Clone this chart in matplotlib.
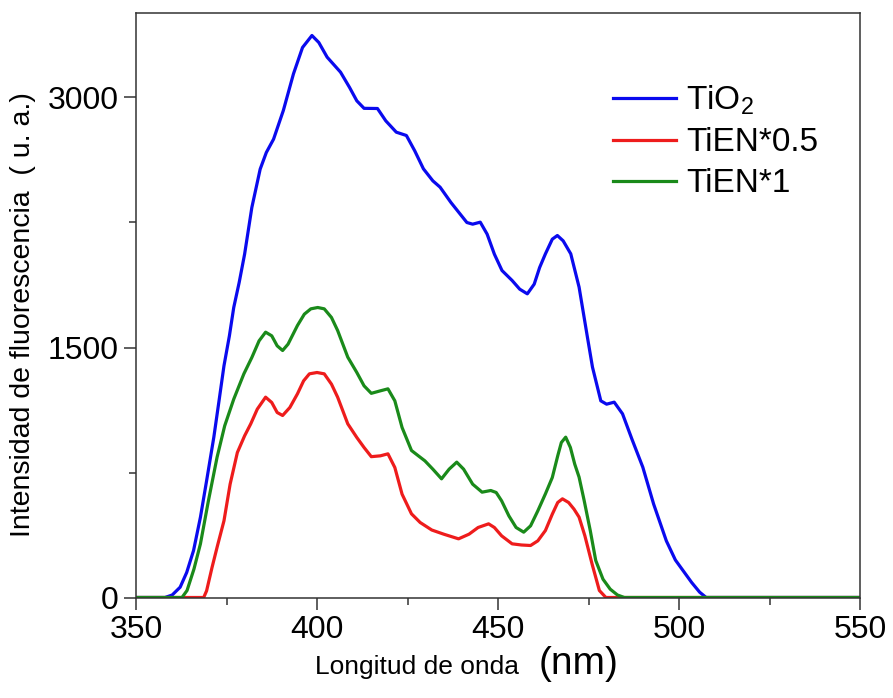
import matplotlib.pyplot as plt
from matplotlib.ticker import MultipleLocator

plt.rcParams['font.family'] = ['Liberation Sans', 'DejaVu Sans']
plt.rcParams['mathtext.default'] = 'regular'

# TiO2 emission spectrum
x_tio2 = [350, 358, 360, 362.2, 364, 365.9, 367.8, 369.5, 371.5, 373, 374.3, 375.8, 377,
          378.5, 380, 382, 384.3, 386, 388, 390.7, 393.5, 396, 398.6, 400.5, 402.8, 406.5,
          409, 411, 413, 416.7, 419, 421.9, 424.7, 427, 429.4, 432, 434, 437, 441.4, 443,
          445.1, 447, 449, 451.1, 453.9, 456, 458.1, 460, 461.5, 463.1, 465, 466.4, 468,
          470.1, 472.4, 474.7, 476.1, 478.4, 480, 482.1, 484.4, 487, 490, 493, 496.5, 499,
          501.1, 503.5, 505.7, 507.5, 550]
y_tio2 = [0, 0, 15, 62, 150, 282, 482, 700, 962, 1190, 1390, 1570, 1740,
          1890, 2060, 2340, 2570, 2670, 2750, 2922, 3142, 3300, 3372, 3330, 3242, 3152,
          3060, 2980, 2935, 2934, 2860, 2792, 2772, 2680, 2572, 2500, 2462, 2370, 2250, 2240,
          2252, 2180, 2060, 1962, 1902, 1850, 1822, 1880, 1980, 2062, 2150, 2172, 2140,
          2062, 1862, 1562, 1382, 1180, 1160, 1172, 1102, 950, 782, 560, 340, 225,
          162, 90, 32, 0, 0]

# TiEN*0.5
x_tien05 = [350, 368.7, 369.5, 371, 372.5, 374.3, 376, 378, 380, 381.7, 383.5, 385.8, 387.5,
            389, 390.5, 392.5, 394.6, 396.3, 397.9, 400, 402, 404, 405.7, 408.5, 411, 413,
            415, 417.5, 419.6, 421.5, 423.5, 426.1, 428.5, 431.7, 435, 439.1, 442, 444.5,
            447.4, 449, 451, 453.9, 456.5, 459, 461, 463.1, 465, 466.5, 467.8, 469.5, 471,
            472.4, 474, 476, 478, 479.8, 550]
y_tien05 = [0, 0, 40, 180, 310, 460, 680, 870, 970, 1042, 1130, 1202, 1170,
            1110, 1092, 1140, 1222, 1300, 1342, 1350, 1342, 1280, 1202, 1042, 960, 900,
            845, 850, 862, 780, 620, 502, 450, 405, 380, 352, 380, 420,
            442, 420, 370, 322, 315, 312, 340, 402, 500, 570, 592, 570, 530,
            482, 370, 200, 42, 0, 0]

# TiEN*1
x_tien1 = [350, 362.7, 364.1, 366, 367.8, 370, 372.4, 374.5, 377, 379.8, 382, 384, 385.8,
           387.5, 389, 390.5, 392, 394.6, 396.5, 398.3, 400.2, 402, 404, 405.7, 408.5, 411,
           413, 415, 417.5, 419.6, 421.5, 423.5, 426.1, 428, 429.8, 432, 434.4, 436.5, 438.6,
           440.5, 443, 445.6, 448, 449.5, 451, 453, 455, 457.1, 459, 461, 463.1, 465, 466.5,
           467.5, 468.7, 470, 471.2, 472.4, 473.8, 475.5, 477, 479, 481, 483, 484.9, 550]
y_tien1 = [0, 0, 42, 170, 322, 580, 842, 1030, 1190, 1342, 1440, 1540, 1592,
           1570, 1510, 1482, 1520, 1632, 1700, 1732, 1740, 1732, 1680, 1602, 1442, 1350,
           1270, 1225, 1240, 1252, 1180, 1020, 882, 850, 820, 770, 712, 770, 812,
           770, 680, 632, 642, 630, 580, 490, 420, 392, 430, 520, 622, 720, 850,
           930, 962, 900, 800, 722, 582, 400, 222, 110, 50, 15, 0, 0]

fig = plt.figure(figsize=(8.93, 6.98), dpi=100)
ax = fig.add_axes([136/893, 1 - 597.5/698, (860 - 136)/893, (597.5 - 13)/698])

for xs, ys, c, lab in [(x_tio2, y_tio2, '#0a0aee', 'TiO$_2$'),
                       (x_tien05, y_tien05, '#ee1c1c', 'TiEN*0.5'),
                       (x_tien1, y_tien1, '#1a8a1a', 'TiEN*1')]:
    ax.plot(xs, ys, color=c, lw=2.3, label=lab, solid_joinstyle='round')

ax.set_xlim(350, 550)
ax.set_ylim(0, 3507)
ax.xaxis.set_major_locator(MultipleLocator(50))
ax.xaxis.set_minor_locator(MultipleLocator(25))
ax.set_yticks([0, 1500, 3000])
ax.yaxis.set_minor_locator(MultipleLocator(750))

for s in ax.spines.values():
    s.set_linewidth(1.1)
    s.set_color('#333333')
ax.tick_params(which='major', direction='out', length=8.5, width=1.1, labelsize=23,
               color='#333333', pad=4)
ax.tick_params(which='minor', direction='out', length=5, width=1.1, color='#333333')

leg = ax.legend(loc='upper left', bbox_to_anchor=(0.617, 0.93), frameon=False,
                fontsize=24, handlelength=1.9, handletextpad=0.3, labelspacing=0.3)

fig.text(0.026, 1 - 315/698, 'Intensidad de fluorescencia  ( u. a.)', rotation=90,
         ha='center', va='center', fontsize=20.5)
fig.text(417/893, 1 - 667/698, 'Longitud de onda', ha='center', va='center', fontsize=19)
fig.text(579/893, 1 - 664/698, '(nm)', ha='center', va='center', fontsize=28)

fig.savefig('out.png', dpi=100)
